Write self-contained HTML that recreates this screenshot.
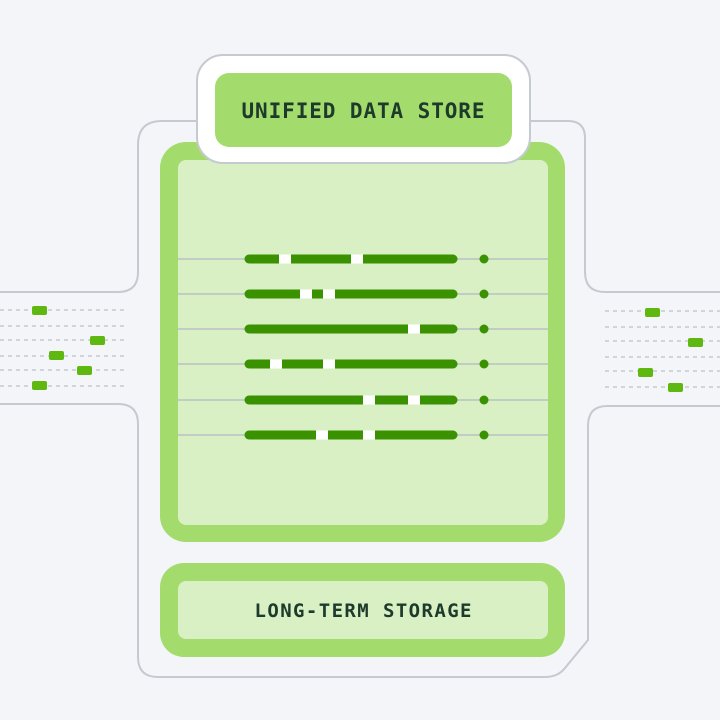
<!DOCTYPE html>
<html><head><style>
body{margin:0;background:#f3f5f8;}
svg{display:block}
text{font-family:"DejaVu Sans Mono","Liberation Mono",monospace;font-weight:bold;fill:#1e3a2b}
</style></head><body>
<svg width="720" height="720" viewBox="0 0 720 720" xmlns="http://www.w3.org/2000/svg">
<rect width="720" height="720" fill="#f3f5f8"/>
<path d="M0 292 H118 Q138 292 138 272 V145 Q138 121 162 121 H200 M528 121 H568 Q585 121 585 138 V272 Q585 292 605 292 H720 M720 406 H607 Q588 406 588 426 V640 L565 668 Q558 677 545 677 H158 Q138 677 138 657 V424 Q138 404 118 404 H0" fill="none" stroke="#c5cad1" stroke-width="2"/>
<g stroke="#c5cad1" stroke-width="1.5" stroke-dasharray="4 4">
<line x1="0" y1="310" x2="125" y2="310"/><line x1="0" y1="326" x2="125" y2="326"/><line x1="0" y1="340" x2="125" y2="340"/><line x1="0" y1="356" x2="125" y2="356"/><line x1="0" y1="370" x2="125" y2="370"/><line x1="0" y1="386" x2="125" y2="386"/>
<line x1="605" y1="311" x2="720" y2="311"/><line x1="605" y1="327" x2="720" y2="327"/><line x1="605" y1="341" x2="720" y2="341"/><line x1="605" y1="357" x2="720" y2="357"/><line x1="605" y1="371" x2="720" y2="371"/><line x1="605" y1="387" x2="720" y2="387"/>
</g>
<g fill="#5fb80f">
<rect x="32" y="306" width="15" height="9" rx="2"/><rect x="90" y="336" width="15" height="9" rx="2"/><rect x="49" y="351" width="15" height="9" rx="2"/><rect x="77" y="366" width="15" height="9" rx="2"/><rect x="32" y="381" width="15" height="9" rx="2"/>
<rect x="645" y="308" width="15" height="9" rx="2"/><rect x="688" y="338" width="15" height="9" rx="2"/><rect x="638" y="368" width="15" height="9" rx="2"/><rect x="668" y="383" width="15" height="9" rx="2"/>
</g>
<rect x="160" y="142" width="405" height="400" rx="26" fill="#a3dc6c"/>
<rect x="178" y="160" width="370" height="365" rx="8" fill="#d8f0c4"/>
<rect x="197" y="55" width="333" height="108" rx="26" fill="#fff" stroke="#c5cad1" stroke-width="2"/>
<rect x="215" y="73" width="297" height="74" rx="14" fill="#a3dc6c"/>
<text x="363" y="118" font-size="21" text-anchor="middle" textLength="243" lengthAdjust="spacing">UNIFIED DATA STORE</text>
<g stroke="#b8c0c4" stroke-width="1.5">
<line x1="178" y1="259" x2="548" y2="259"/><line x1="178" y1="294" x2="548" y2="294"/><line x1="178" y1="329" x2="548" y2="329"/><line x1="178" y1="364" x2="548" y2="364"/><line x1="178" y1="400" x2="548" y2="400"/><line x1="178" y1="435" x2="548" y2="435"/>
</g>
<g stroke="#3a9200" stroke-width="9" stroke-linecap="round">
<line x1="249" y1="259" x2="453" y2="259"/><line x1="249" y1="294" x2="453" y2="294"/><line x1="249" y1="329" x2="453" y2="329"/><line x1="249" y1="364" x2="453" y2="364"/><line x1="249" y1="400" x2="453" y2="400"/><line x1="249" y1="435" x2="453" y2="435"/>
</g>
<g fill="#3a9200">
<circle cx="484" cy="259" r="4.5"/><circle cx="484" cy="294" r="4.5"/><circle cx="484" cy="329" r="4.5"/><circle cx="484" cy="364" r="4.5"/><circle cx="484" cy="400" r="4.5"/><circle cx="484" cy="435" r="4.5"/>
</g>
<g fill="#fff">
<rect x="279" y="254.5" width="12" height="9"/><rect x="351" y="254.5" width="12" height="9"/>
<rect x="300" y="289.5" width="12" height="9"/><rect x="323" y="289.5" width="12" height="9"/>
<rect x="408" y="324.5" width="12" height="9"/>
<rect x="270" y="359.5" width="12" height="9"/><rect x="323" y="359.5" width="12" height="9"/>
<rect x="363" y="395.5" width="12" height="9"/><rect x="408" y="395.5" width="12" height="9"/>
<rect x="316" y="430.5" width="12" height="9"/><rect x="363" y="430.5" width="12" height="9"/>
</g>
<rect x="160" y="563" width="405" height="94" rx="24" fill="#a3dc6c"/>
<rect x="178" y="581" width="370" height="58" rx="8" fill="#d8f0c4"/>
<text x="363" y="617" font-size="19" text-anchor="middle" textLength="217" lengthAdjust="spacing">LONG-TERM STORAGE</text>
</svg>
</body></html>
